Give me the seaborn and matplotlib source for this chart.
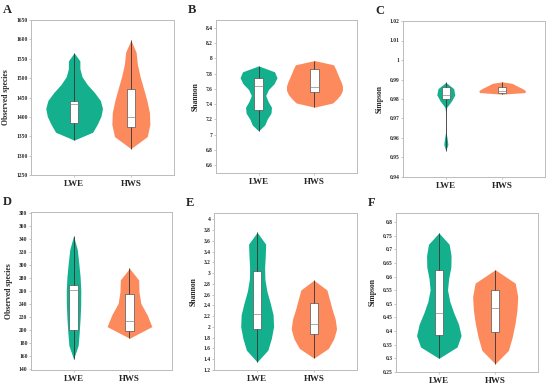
import numpy as np
import pandas as pd
import matplotlib
matplotlib.use('Agg')
import matplotlib.pyplot as plt
import seaborn as sns
from matplotlib.ticker import MultipleLocator, FuncFormatter

sns.set_style('white')
plt.rcParams['font.family'] = ['Liberation Serif', 'DejaVu Serif']
plt.rcParams['font.weight'] = 'bold'

groups = ['LWE', 'HWS']
colors = ['#14b08e', '#fd8a5c']

# sample values (per panel, per group)
a_lwe = [1340, 1378, 1385, 1430, 1434, 1438, 1450, 1565]
a_hws = [1318, 1360, 1380, 1395, 1405, 1470, 1480, 1598]
b_lwe = [7.05, 7.28, 7.32, 7.40, 7.64, 7.72, 7.74, 7.80, 7.90]
b_hws = [7.36, 7.50, 7.56, 7.60, 7.62, 7.70, 7.86, 7.90, 7.97]
c_lwe = [0.9535, 0.9580, 0.9800, 0.9803, 0.9810, 0.9818, 0.9822, 0.9840, 0.9860, 0.9868, 0.9878, 0.9885]
c_hws = [0.9825, 0.9830, 0.9834, 0.9838, 0.9845, 0.9860, 0.9865, 0.9888]
d_lwe = [155, 190, 198, 202, 240, 262, 265, 268, 272, 300, 345]
d_hws = [187, 192, 196, 198, 203, 208, 213, 216, 222, 255, 268, 280, 295]
e_lwe = [1.35, 1.80, 1.96, 2.10, 2.25, 2.45, 3.04, 3.55, 3.76]
e_hws = [1.42, 1.75, 1.87, 1.95, 2.05, 2.20, 2.45, 2.60, 2.87]
f_lwe = [0.30, 0.36, 0.38, 0.39, 0.40, 0.467, 0.50, 0.60, 0.65, 0.69, 0.76]
f_hws = [0.28, 0.36, 0.395, 0.44, 0.483, 0.52, 0.55, 0.58, 0.625]

panels = [
    # letter, lwe, hws, ylabel, ylim, tick step, axes rect (px: l, t, r, b), widths, bw_adjust, gridsize
    ('A', a_lwe, a_hws, 'Observed species', (1250, 1650), 50, (31, 20, 174, 175), (1.0, 0.67), (0.9, 0.9), (12, 10)),
    ('B', b_lwe, b_hws, 'Shannon', (6.5, 8.5), 0.2, (216, 20, 357, 173), (0.66, 1.0), (0.55, 1.1), (12, 12)),
    ('C', c_lwe, c_hws, 'Simpson', (0.94, 1.02), 0.01, (403, 21, 545, 177), (0.32, 0.83), (0.35, 1.2), (12, 9)),
    ('D', d_lwe, d_hws, 'Observed species', (138, 382), 20, (31, 212, 172, 370), (0.26, 0.8), (1.2, 1.0), (10, 7)),
    ('E', e_lwe, e_hws, 'Shannon', (1.2, 4.12), 0.2, (214, 213, 357, 370), (0.58, 0.8), (0.7, 0.9), (12, 9)),
    ('F', f_lwe, f_hws, 'Simpson', (0.25, 0.833), 0.05, (396, 213, 538, 372), (0.79, 0.8), (0.55, 0.9), (12, 8)),
]

W, H = 550, 386
fig = plt.figure(figsize=(5.5, 3.86), dpi=100)

for letter, lwe, hws, ylab, ylim, step, rect, widths, bws, grids in panels:
    l, t, r, b = rect
    ax = fig.add_axes([l / W, 1 - b / H, (r - l) / W, (b - t) / H])
    df = pd.DataFrame({'group': ['LWE'] * len(lwe) + ['HWS'] * len(hws),
                       'value': lwe + hws})
    for g, col, vw, bw, gs in zip(groups, colors, widths, bws, grids):
        sns.violinplot(data=df[df['group'] == g], x='group', y='value', order=groups,
                       color=col, saturation=1, cut=0, inner=None, linewidth=0,
                       width=vw, bw_adjust=bw, density_norm='width', gridsize=gs,
                       ax=ax)
    # pinch the violin ends to a point, like the original polygons
    for coll in ax.collections:
        new = []
        for p in coll.get_paths():
            v = p.vertices.copy()
            cx = (v[:, 0].min() + v[:, 0].max()) / 2
            ends = np.isclose(v[:, 1], v[:, 1].min()) | np.isclose(v[:, 1], v[:, 1].max())
            v[ends, 0] = cx
            new.append(v)
        coll.set_verts(new)
    sns.boxplot(data=df, x='group', y='value', order=groups, width=0.15,
                whis=(0, 100), showfliers=False, showcaps=False,
                boxprops=dict(facecolor='white', edgecolor='#555555', linewidth=0.5),
                medianprops=dict(color='#888888', linewidth=0.5),
                whiskerprops=dict(color='#333333', linewidth=0.6),
                ax=ax)
    ax.set_xlim(-0.76, 1.76)
    ax.set_ylim(*ylim)
    ax.yaxis.set_major_locator(MultipleLocator(step))
    ax.yaxis.set_major_formatter(FuncFormatter(lambda v, p: '%g' % round(v, 4)))
    ax.set_xlabel('')
    ax.set_ylabel(ylab, fontsize=5.5, fontweight='bold', labelpad=4)
    ax.tick_params(axis='y', labelsize=4, length=1.5, width=0.4, pad=1,
                   left=True, color='#999999')
    ax.tick_params(axis='x', labelsize=6.5, length=1.5, width=0.4, pad=2,
                   bottom=True, color='#999999')
    for s in ax.spines.values():
        s.set_color('#bbbbbb')
        s.set_linewidth(0.7)
    fig.text((l - 28) / W, 1 - (t - 7) / H, letter, fontsize=9, fontweight='bold',
             ha='left', va='baseline')

fig.savefig('out.png', dpi=100)
